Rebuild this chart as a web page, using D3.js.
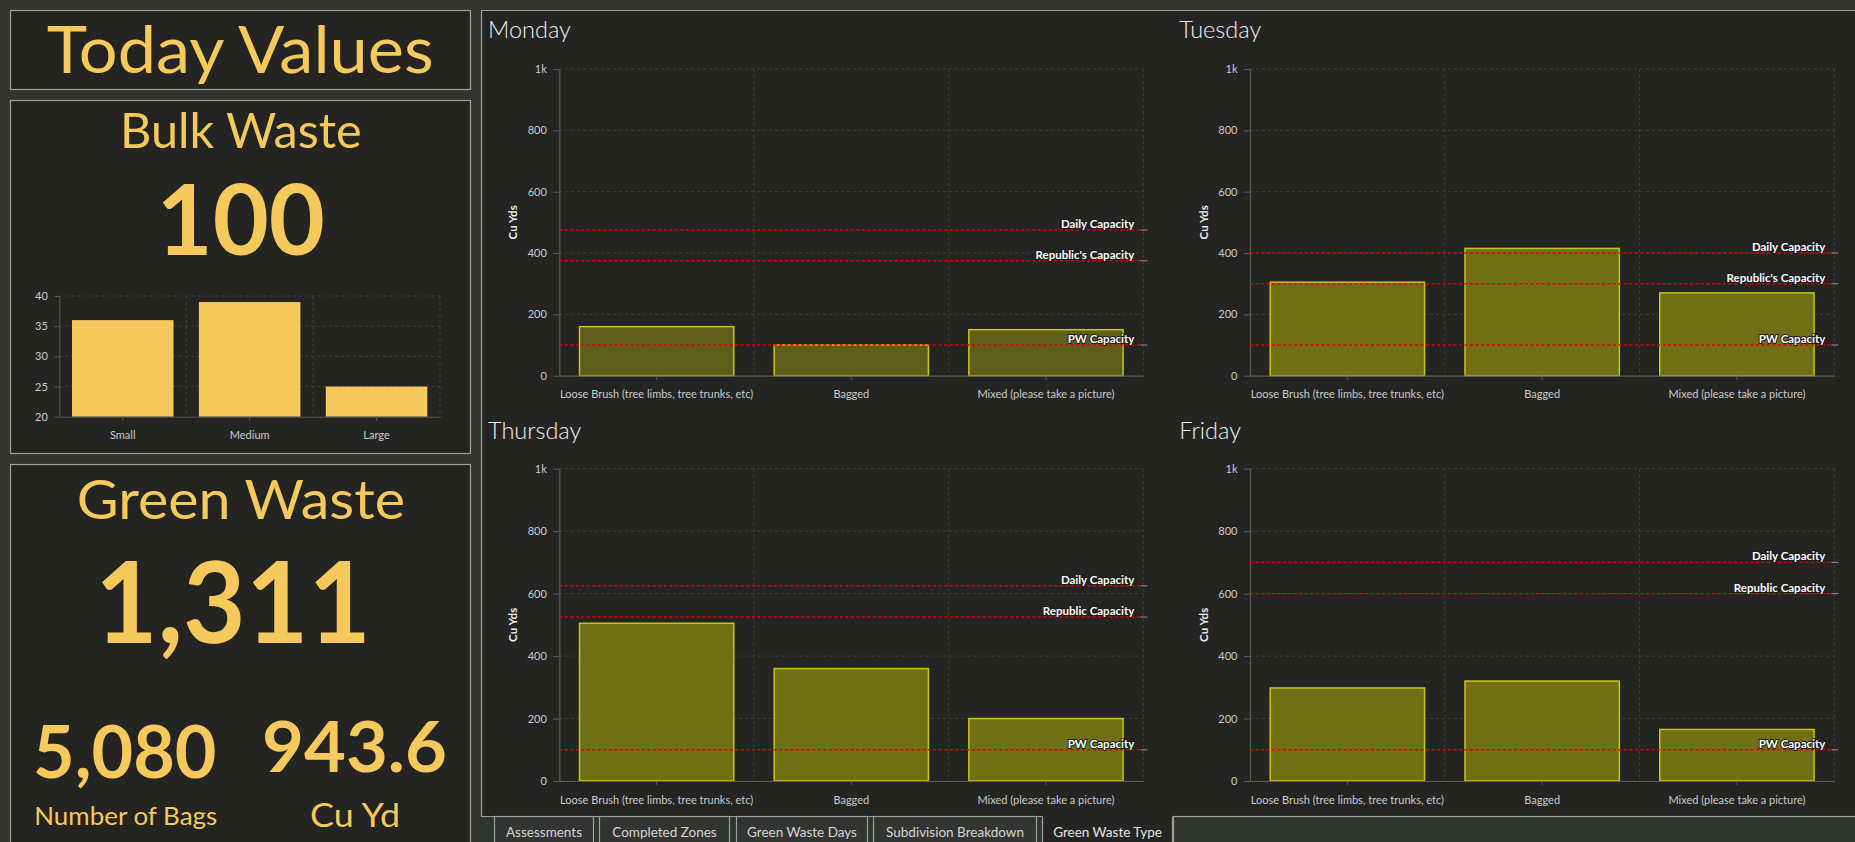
<!DOCTYPE html>
<html>
<head>
<meta charset="utf-8">
<script src="https://cdn.jsdelivr.net/npm/d3@7"></script>
<style>
  html, body { margin: 0; padding: 0; background: #323431; overflow: hidden; }
  svg { display: block; font-family: Lato, "Open Sans", sans-serif; }
</style>
</head>
<body>
<script>
// ---------------- DATA ----------------
const wasteTypes = ["Loose Brush (tree limbs, tree trunks, etc)", "Bagged", "Mixed (please take a picture)"];
const dayNames = ["Monday", "Tuesday", "Thursday", "Friday"];
const mondayValues = [160, 100, 150];
const tuesdayValues = [305, 415, 270];
const thursdayValues = [505, 360, 200];
const fridayValues = [298, 320, 165];
const mondayCapNames = ["Daily Capacity", "Republic's Capacity", "PW Capacity"];
const tuesdayCapNames = ["Daily Capacity", "Republic's Capacity", "PW Capacity"];
const thursdayCapNames = ["Daily Capacity", "Republic Capacity", "PW Capacity"];
const fridayCapNames = ["Daily Capacity", "Republic Capacity", "PW Capacity"];
const mondayCaps = [475, 375, 100];
const tuesdayCaps = [400, 300, 100];
const thursdayCaps = [625, 525, 100];
const fridayCaps = [700, 600, 100];
const dayTicks = [0, 200, 400, 600, 800, 1000];
const dayTickLabels = ["0", "200", "400", "600", "800", "1k"];
const dayAxisTitle = "Cu Yds";

const bulkCategories = ["Small", "Medium", "Large"];
const bulkValues = [36, 39, 25];
const bulkTicks = [20, 25, 30, 35, 40];

const headerTitle = "Today Values";
const bulkTitle = "Bulk Waste";
const bulkTotal = "100";
const greenTitle = "Green Waste";
const greenTotal = "1,311";
const bagsValue = "5,080";
const bagsLabel = "Number of Bags";
const cuYdValue = "943.6";
const cuYdLabel = "Cu Yd";

const tabNames = ["Assessments", "Completed Zones", "Green Waste Days", "Subdivision Breakdown", "Green Waste Type"];
const activeTab = "Green Waste Type";

// ---------------- LAYOUT / STYLE ----------------
const W = 1855, H = 842;
const C = {
  pageBg: "#323431", panelBg: "#242422", border: "#9da19b",
  gold: "#f5c95c", grid: "#3f3f3c", axis: "#5c5c5a", tick: "#cbcbcb",
  red: "#e00000", barStroke: "#cac512"
};
const tabEdges = [[494, 594], [599, 730], [736, 868], [873, 1037], [1042, 1173]];

const svg = d3.select("body").append("svg").attr("width", W).attr("height", H);
svg.append("rect").attr("width", W).attr("height", H).attr("fill", C.pageBg);

function panel(x0, y0, x1, y1) {
  svg.append("rect").attr("x", x0 + 0.5).attr("y", y0 + 0.5)
    .attr("width", x1 - x0 - 1).attr("height", y1 - y0 - 1)
    .attr("fill", C.panelBg).attr("stroke", C.border).attr("stroke-width", 1.2);
}
panel(10, 10, 471, 90);
panel(10, 100, 471, 454);
panel(10, 464, 471, 900);

// right panel
const RP = { x0: 481, y0: 10, x1: 1870, y1: 817 };
svg.append("rect").attr("x", RP.x0).attr("y", RP.y0).attr("width", RP.x1 - RP.x0).attr("height", RP.y1 - RP.y0)
  .attr("fill", C.panelBg);
svg.append("path").attr("d", `M${RP.x0 + 0.5},${RP.y1}V${RP.y0 + 0.5}H${RP.x1}`)
  .attr("fill", "none").attr("stroke", C.border).attr("stroke-width", 1.2);
svg.append("line").attr("x1", RP.x0).attr("x2", RP.x1).attr("y1", RP.y1 - 0.5).attr("y2", RP.y1 - 0.5)
  .attr("stroke", C.border).attr("stroke-width", 1.2);

// tabs
const tabG = svg.append("g");
tabNames.forEach((t, i) => {
  const [a, b] = tabEdges[i];
  const active = t === activeTab;
  tabG.append("rect").attr("x", a + 0.5).attr("y", active ? RP.y1 - 1.5 : RP.y1 - 0.5)
    .attr("width", b - a - 1).attr("height", 40)
    .attr("fill", active ? C.panelBg : "#333532")
    .attr("stroke", active ? "none" : C.border).attr("stroke-width", 1.2);
  if (active) {
    tabG.append("path").attr("d", `M${a + 0.5},${RP.y1}V${H + 5}M${b - 0.5},${RP.y1}V${H + 5}`)
      .attr("stroke", C.border).attr("stroke-width", 1.2);
  }
  tabG.append("text").attr("x", (a + b) / 2).attr("y", 836.5).attr("text-anchor", "middle")
    .attr("font-size", 13.5).attr("fill", active ? "#e4e4e4" : "#d6d6d6").text(t);
});
tabG.append("rect").attr("x", 1173.5).attr("y", RP.y1 - 0.5).attr("width", 800).attr("height", 40)
  .attr("fill", "#333532").attr("stroke", C.border).attr("stroke-width", 1.2);

// ---------------- KPI TEXTS ----------------
function bigText(str, x, y, size, len, weight) {
  svg.append("text").attr("x", x).attr("y", y).attr("font-size", size)
    .attr("font-weight", weight).attr("fill", C.gold)
    .attr("textLength", len).attr("lengthAdjust", "spacingAndGlyphs").text(str);
}
bigText(headerTitle, 46.7, 73.3, 66, 387, 400);
bigText(bulkTitle, 120, 147.7, 48, 241.7, 400);
bigText(bulkTotal, 156.5, 255, 98, 168.5, 700);
bigText(greenTitle, 76.7, 519.3, 54, 328.3, 400);
bigText(greenTotal, 95, 642.7, 113, 276, 700);
bigText(bagsValue, 33, 778.3, 72, 183.5, 700);
bigText(cuYdValue, 262, 771.7, 70, 185, 700);
bigText(bagsLabel, 34.3, 825, 25.5, 183, 400);
bigText(cuYdLabel, 310, 826.7, 32.5, 90, 400);

// ---------------- BULK CHART ----------------
(function () {
  const x0 = 59.3, x1 = 440, y0 = 296, y1 = 416.7;
  const g = svg.append("g");
  const x = d3.scaleBand().domain(bulkCategories).range([x0, x1]).paddingInner(0.2).paddingOuter(0.1);
  const y = d3.scaleLinear().domain([20, 40]).range([y1, y0]);
  bulkTicks.filter(t => t > 20).forEach(t => {
    g.append("line").attr("x1", x0).attr("x2", x1).attr("y1", y(t)).attr("y2", y(t))
      .attr("stroke", C.grid).attr("stroke-dasharray", "3,3");
  });
  bulkCategories.forEach((c, i) => {
    const xv = x0 + (i + 1) * x.step();
    g.append("line").attr("x1", xv).attr("x2", xv).attr("y1", y0).attr("y2", y1)
      .attr("stroke", C.grid).attr("stroke-dasharray", "3,3");
  });
  g.selectAll("rect.bar").data(bulkValues).join("rect").attr("class", "bar")
    .attr("x", (d, i) => x(bulkCategories[i])).attr("width", x.bandwidth())
    .attr("y", d => y(d)).attr("height", d => y1 - y(d)).attr("fill", C.gold);
  const ya = g.append("g").attr("transform", `translate(${x0},0)`)
    .call(d3.axisLeft(y).tickValues(bulkTicks).tickSize(5).tickPadding(6.5).tickSizeOuter(0));
  const xa = g.append("g").attr("transform", `translate(0,${y1})`)
    .call(d3.axisBottom(x).tickSize(4).tickPadding(11).tickSizeOuter(0));
  [ya, xa].forEach(a => {
    a.select(".domain").attr("stroke", C.axis);
    a.selectAll(".tick line").attr("stroke", C.axis);
    a.selectAll("text").attr("fill", C.tick).attr("font-size", 11).attr("font-family", "Lato, sans-serif");
  });
})();

// ---------------- DAY CHARTS ----------------
function dayChart(cfg) {
  const { title, values, capNames, caps, x0, x1, y0, y1, tx, ty, fill } = cfg;
  const g = svg.append("g");
  g.append("text").attr("x", tx).attr("y", ty).attr("font-size", 23.5).attr("font-weight", 300)
    .attr("fill", "#f0f0f0").text(title);
  const x = d3.scaleBand().domain(wasteTypes).range([x0, x1]).paddingInner(0.2).paddingOuter(0.1);
  const y = d3.scaleLinear().domain([0, 1000]).range([y1, y0]);
  dayTicks.filter(t => t > 0).forEach(t => {
    g.append("line").attr("x1", x0).attr("x2", x1).attr("y1", y(t)).attr("y2", y(t))
      .attr("stroke", C.grid).attr("stroke-dasharray", "3,3");
  });
  wasteTypes.forEach((c, i) => {
    const xv = x0 + (i + 1) * x.step();
    g.append("line").attr("x1", xv).attr("x2", xv).attr("y1", y0).attr("y2", y1)
      .attr("stroke", C.grid).attr("stroke-dasharray", "3,3");
  });
  g.selectAll("rect.bar").data(values).join("rect").attr("class", "bar")
    .attr("x", (d, i) => x(wasteTypes[i]) + 0.75).attr("width", x.bandwidth() - 1.5)
    .attr("y", d => y(d)).attr("height", d => y1 - y(d))
    .attr("fill", fill).attr("stroke", C.barStroke).attr("stroke-width", 1.5);
  const ya = g.append("g").attr("transform", `translate(${x0},0)`)
    .call(d3.axisLeft(y).tickValues(dayTicks).tickFormat((d, i) => dayTickLabels[i])
      .tickSize(6).tickPadding(6.5).tickSizeOuter(0));
  const xa = g.append("g").attr("transform", `translate(0,${y1})`)
    .call(d3.axisBottom(x).tickSize(4).tickPadding(11).tickSizeOuter(0));
  [ya, xa].forEach(a => {
    a.select(".domain").attr("stroke", C.axis).attr("stroke-width", 1.2);
    a.selectAll(".tick line").attr("stroke", C.axis);
    a.selectAll("text").attr("fill", C.tick).attr("font-size", 11).attr("font-family", "Lato, sans-serif");
  });
  g.append("text").attr("transform", `translate(${x0 - 42},${(y0 + y1) / 2}) rotate(-90)`)
    .attr("text-anchor", "middle").attr("font-size", 11.5).attr("font-weight", 700)
    .attr("fill", "#f0f0f0").text(dayAxisTitle);
  caps.forEach((v, i) => {
    g.append("line").attr("x1", x0).attr("x2", x1).attr("y1", y(v)).attr("y2", y(v))
      .attr("stroke", C.red).attr("stroke-width", 1.4).attr("stroke-dasharray", "3,2.5");
    g.append("line").attr("x1", x1 - 3).attr("x2", x1 + 4).attr("y1", y(v)).attr("y2", y(v))
      .attr("stroke", "#808080").attr("stroke-width", 1.2);
    g.append("text").attr("x", x1 - 9).attr("y", y(v) - 2).attr("text-anchor", "end")
      .attr("font-size", 11.5).attr("font-weight", 700).attr("fill", "#ffffff")
      .attr("stroke", "#1c1c1a").attr("stroke-width", 2).attr("paint-order", "stroke")
      .text(capNames[i]);
  });
}

const leftX = [559.3, 1143.3], rightX = [1250, 1834.3];
const topY = [69, 375.7], botY = [468.7, 781];
dayChart({ title: dayNames[0], values: mondayValues, capNames: mondayCapNames, caps: mondayCaps,
  x0: leftX[0], x1: leftX[1], y0: topY[0], y1: topY[1], tx: 488, ty: 38.3, fill: "#5f5d1b" });
dayChart({ title: dayNames[1], values: tuesdayValues, capNames: tuesdayCapNames, caps: tuesdayCaps,
  x0: rightX[0], x1: rightX[1], y0: topY[0], y1: topY[1], tx: 1179.3, ty: 38.3, fill: "#716f16" });
dayChart({ title: dayNames[2], values: thursdayValues, capNames: thursdayCapNames, caps: thursdayCaps,
  x0: leftX[0], x1: leftX[1], y0: botY[0], y1: botY[1], tx: 488, ty: 439, fill: "#716f16" });
dayChart({ title: dayNames[3], values: fridayValues, capNames: fridayCapNames, caps: fridayCaps,
  x0: rightX[0], x1: rightX[1], y0: botY[0], y1: botY[1], tx: 1179.3, ty: 439, fill: "#716f16" });
</script>
</body>
</html>
